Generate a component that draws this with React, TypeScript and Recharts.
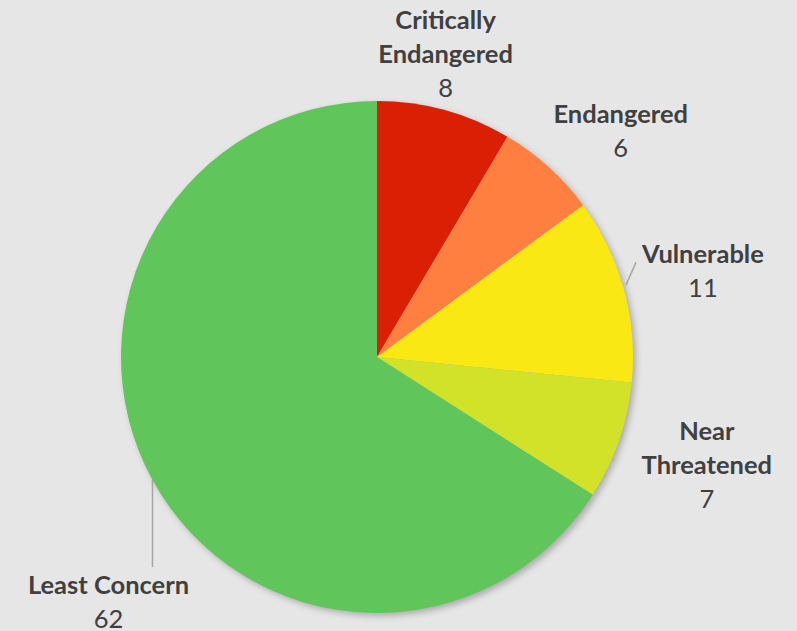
import { PieChart, Pie, Cell } from "recharts";

const CATEGORIES = ["Critically Endangered", "Endangered", "Vulnerable", "Near Threatened", "Least Concern"];
const COUNTS = [8, 6, 11, 7, 62];
const COLORS = ["#DA1F05", "#FE7F3F", "#F9E814", "#D1E229", "#60C65B"];
// how each label is broken into lines
const LABEL_LINES = [["Critically", "Endangered"], ["Endangered"], ["Vulnerable"], ["Near", "Threatened"], ["Least Concern"]];

// nudge from the slice's outer-edge midpoint to the label block centre
const LABEL_NUDGE = [
  { dx: 1, dy: -56, line: false },
  { dx: 72, dy: -36, line: false },
  { dx: 79, dy: -18, line: true },
  { dx: 88, dy: 24, line: false },
  { dx: -44, dy: 122, line: true },
];

const data = CATEGORIES.map((name, i) => ({ name, value: COUNTS[i] }));

const BG = "#E6E6E6";
const TEXT = "#404040";
const FONT = "Lato, 'Open Sans', sans-serif";
const LINE_H = 34;
const RAD = Math.PI / 180;

function renderLabel(props: any) {
  const { cx, cy, midAngle, outerRadius, index, value } = props;
  const px = cx + outerRadius * Math.cos(-midAngle * RAD);
  const py = cy + outerRadius * Math.sin(-midAngle * RAD);
  const nudge = LABEL_NUDGE[index];
  const lx = px + nudge.dx;
  const ly = py + nudge.dy;
  const lines = [...LABEL_LINES[index], String(value)];
  const top = ly - ((lines.length - 1) * LINE_H) / 2;
  let leader = null;
  if (nudge.line) {
    if (index === 4) {
      leader = <line x1={px} y1={py} x2={px} y2={ly - 35} stroke="#A6A6A6" strokeWidth={1.5} />;
    } else {
      leader = <line x1={px + 2} y1={py - 4} x2={px + 12} y2={py - 27} stroke="#A6A6A6" strokeWidth={1.5} />;
    }
  }
  return (
    <g key={`lbl-${index}`}>
      {leader}
      {lines.map((t, j) => (
        <text
          key={j}
          x={lx}
          y={top + j * LINE_H + 9}
          textAnchor="middle"
          fill={TEXT}
          fontFamily={FONT}
          fontSize={25.5}
          fontWeight={j === lines.length - 1 ? 400 : 700}
        >
          {t}
        </text>
      ))}
    </g>
  );
}

export default function App() {
  return (
    <div style={{ width: 797, height: 631, background: BG }}>
      <style>{`body{margin:0}`}</style>
      <PieChart width={797} height={631} margin={{ top: 0, right: 0, bottom: 0, left: 0 }}>
        <defs>
          <filter id="pieShadow" x="-20%" y="-20%" width="140%" height="140%">
            <feGaussianBlur stdDeviation="3" />
          </filter>
        </defs>
        <Pie
          data={data}
          dataKey="value"
          cx={380}
          cy={360}
          outerRadius={256}
          startAngle={90}
          endAngle={-270}
          stroke="none"
          isAnimationActive={false}
          legendType="none"
        >
          {data.map((d, i) => (
            <Cell key={d.name} fill="#000" fillOpacity={0.25} filter="url(#pieShadow)" />
          ))}
        </Pie>
        <Pie
          data={data}
          dataKey="value"
          cx={377}
          cy={357}
          outerRadius={256}
          startAngle={90}
          endAngle={-270}
          stroke="none"
          isAnimationActive={false}
          label={renderLabel}
          labelLine={false}
        >
          {data.map((d, i) => (
            <Cell key={d.name} fill={COLORS[i]} />
          ))}
        </Pie>
      </PieChart>
    </div>
  );
}
